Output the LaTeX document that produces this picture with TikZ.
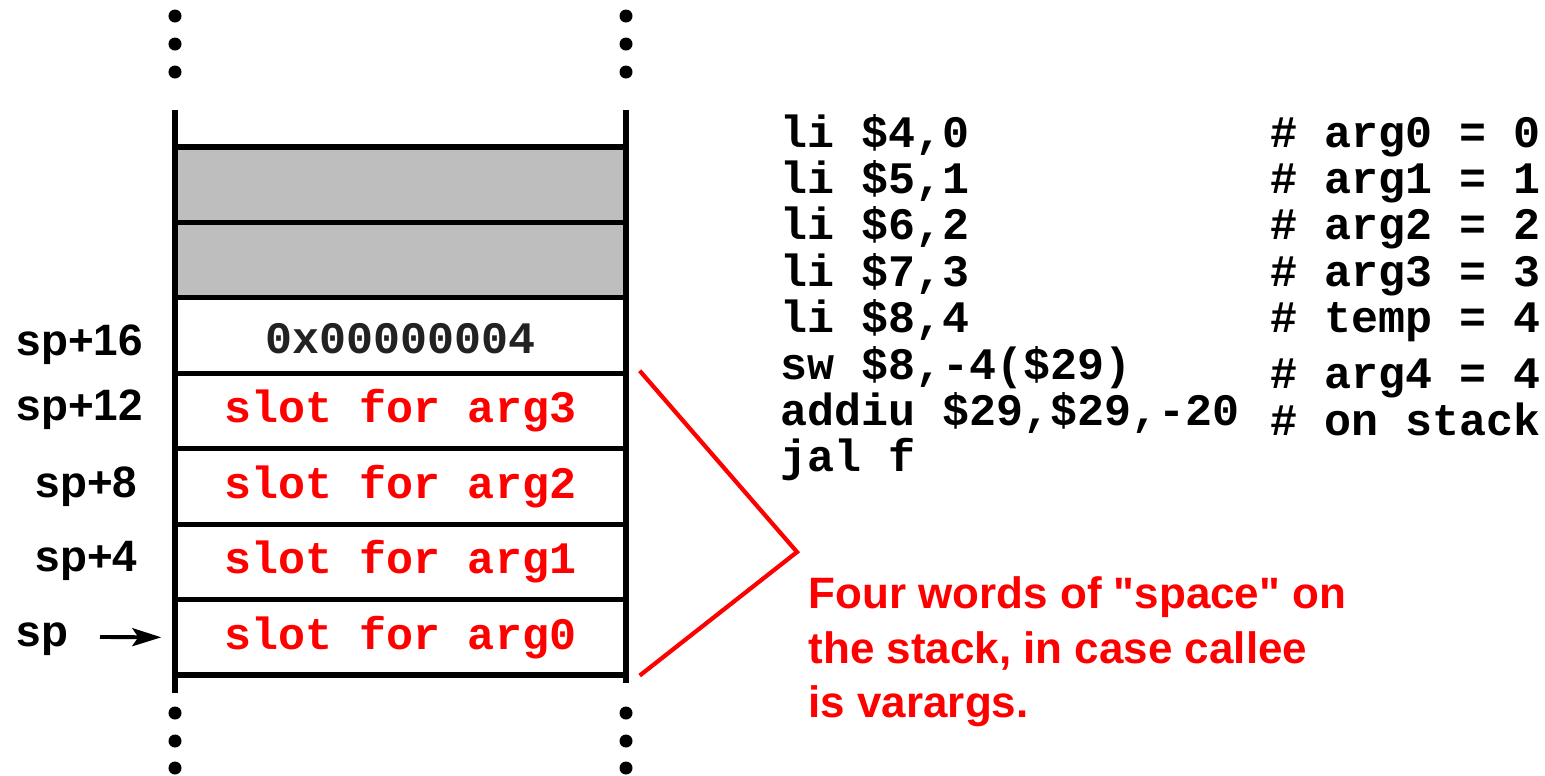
\documentclass[tikz,border=0pt]{standalone}
\usepackage{fontspec}
\setmainfont{Liberation Sans}
\setmonofont{Liberation Mono}
\usepackage{tikz}
\usetikzlibrary{arrows.meta}
\definecolor{INK}{HTML}{000000}
\definecolor{HEX}{HTML}{222222}
\definecolor{SLOT}{HTML}{FF0000}
\definecolor{PAD}{HTML}{BEBEBE}

\begin{document}
\begin{tikzpicture}[
  x=0.01cm, y=-0.01cm,
  cell/.style={draw=INK, line width=1.45pt, minimum width=4.51cm, minimum height=0.754cm, inner sep=0pt, font=\fontsize{12.8}{15}\selectfont\ttfamily\bfseries},
  pad/.style={cell, fill=PAD},
  slot/.style={cell, text=SLOT},
  rail/.style={draw=INK, line width=1.45pt},
  off/.style={anchor=base west, inner sep=0pt, text=INK, font=\fontsize{12.5}{15}\selectfont\bfseries},
  code/.style={anchor=base west, inner sep=0pt, text=INK, font=\fontsize{12.8}{15}\selectfont\ttfamily\bfseries},
  note/.style={anchor=base west, inner sep=0pt, text=SLOT, font=\fontsize{12.5}{15}\selectfont\bfseries},
  ptr/.style={-{Stealth[length=2.9mm, width=1.8mm, inset=0.6mm]}, draw=INK, line width=1.1pt},
  bracket/.style={draw=SLOT, line width=1.2pt}
]
\useasboundingbox (0,0) rectangle (1545,775);

% stack frame, top to bottom
\node[pad] (g1) at (400.5,184.7) {};
\node[pad] (g2) at (400.5,260.1) {};
\node[cell, text=HEX, text height=0.36cm] (tmp) at (400.5,335.6) {0x00000004};
\node[slot] (a3) at (400.5,411.0) {slot for arg3};
\node[slot] (a2) at (400.5,486.4) {slot for arg2};
\node[slot] (a1) at (400.5,561.9) {slot for arg1};
\node[slot] (a0) at (400.5,637.3) {slot for arg0};

% side rails and the "more stack" dots
\draw[rail] (175,110) -- (175,693);
\draw[rail] (626,110) -- (626,683);
\foreach \y in {16,44,72,713,741,768} {
  \fill[INK] (175,\y) circle[radius=0.065cm];
  \fill[INK] (626,\y) circle[radius=0.065cm];
}

% offsets from sp
\node[off] (l16) at (16,355) {sp+16};
\node[off] (l12) at (16,420) {sp+12};
\node[off] (l8) at (35,497) {sp+8};
\node[off] (l4) at (35,571) {sp+4};
\node[off] (lsp) at (16,646) {sp};
\coordinate (spfoot) at (100,637);
\draw[ptr] (spfoot) -- ([xshift=-0.11cm]a0.west);

% caller code
\node[code] (i1) at (780,147.0) {li \$4,0};
\node[code] (i2) at (780,193.4) {li \$5,1};
\node[code] (i3) at (780,239.8) {li \$6,2};
\node[code] (i4) at (780,286.2) {li \$7,3};
\node[code] (i5) at (780,332.6) {li \$8,4};
\node[code] (i6) at (780,379.0) {sw \$8,-4(\$29)};
\node[code] (i7) at (780,425.4) {addiu \$29,\$29,-20};
\node[code] (i8) at (780,471.8) {jal f};

\node[code] (k1) at (1270,147.0) {\# arg0 = 0};
\node[code] (k2) at (1270,193.4) {\# arg1 = 1};
\node[code] (k3) at (1270,239.8) {\# arg2 = 2};
\node[code] (k4) at (1270,286.2) {\# arg3 = 3};
\node[code] (k5) at (1270,332.6) {\# temp = 4};
\node[code] (k6) at (1270,388.0) {\# arg4 = 4};
\node[code] (k7) at (1270,435.0) {\# on stack};

% bracket over the four arg slots
\coordinate (tip) at (797,552);
\draw[bracket] ([xshift=0.11cm]a3.north east) -- (tip) -- ([xshift=0.11cm, yshift=0.02cm]a0.south east);

\node[note] (w1) at (808,608) {Four words of \textquotedbl space\textquotedbl\ on};
\node[note] (w2) at (808,663) {the stack, in case callee};
\node[note] (w3) at (808,717) {is varargs.};

\end{tikzpicture}
\end{document}
